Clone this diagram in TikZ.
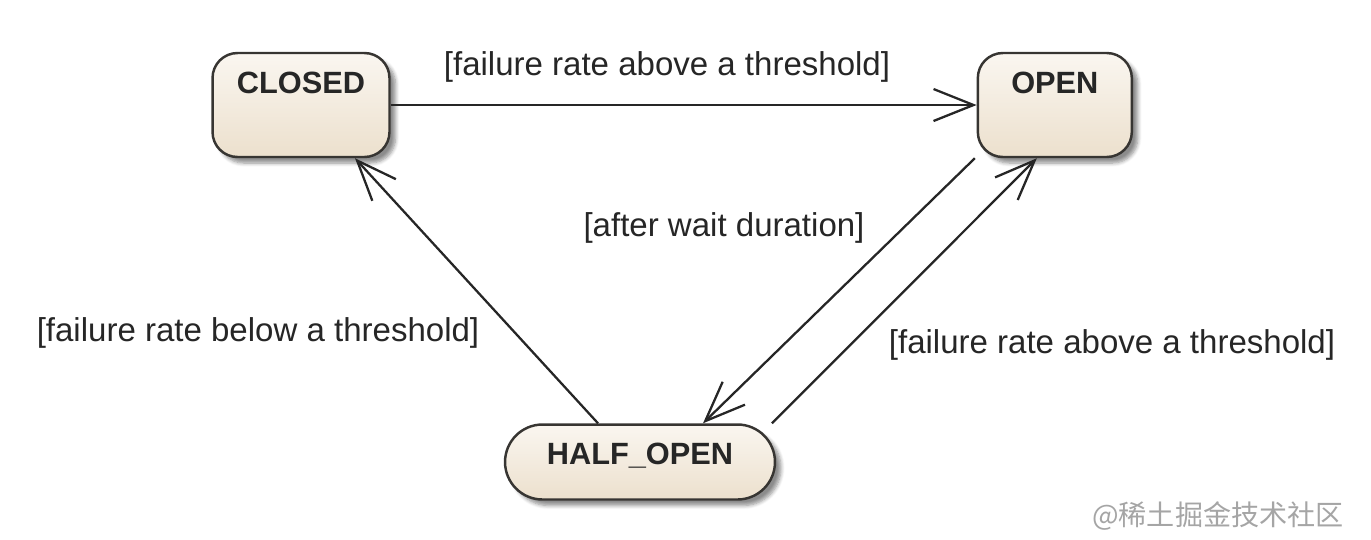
\documentclass[tikz,border=0pt]{standalone}
\usepackage{fontspec}
\setmainfont{Liberation Sans}
\newfontfamily\cjkfont{Noto Sans CJK SC}
\usepackage{xcolor}
\definecolor{statefill}{RGB}{236,224,205}
\definecolor{statetop}{RGB}{250,246,240}
\definecolor{stateline}{RGB}{55,53,50}
\definecolor{wmgray}{RGB}{165,165,165}
\usepackage{tikz}
\usetikzlibrary{arrows.meta, positioning, calc, shadows.blur}

\begin{document}
\begin{tikzpicture}[x=0.02cm, y=-0.02cm,
  cbstate/.style={rectangle, draw=stateline, line width=1.4pt, rounded corners=0.5cm,
               top color=statetop, bottom color=statefill,
               blur shadow={shadow xshift=0.12cm, shadow yshift=-0.12cm, shadow blur steps=6, shadow opacity=45},
               inner sep=0pt, text height=0.45cm, text=black!85, font=\fontsize{17.5}{20}\selectfont\bfseries},
  guard/.style={inner sep=0pt, text=black!85, font=\fontsize{18.8}{22}\selectfont},
  trans/.style={-{Straight Barb[length=0.8cm, width=0.64cm, line width=1.3pt]}, line width=1.3pt, black!85}
]
\useasboundingbox (0,0) rectangle (1371,539);

\node[cbstate, minimum width=3.54cm, minimum height=2.08cm, text depth=0.92cm] (closed) at (301,105) {CLOSED};
\node[cbstate, minimum width=3.08cm, minimum height=2.08cm, text depth=0.92cm, right=11.72cm of closed] (open) {OPEN};
\node[cbstate, minimum width=5.4cm, minimum height=1.5cm, rounded corners=0.75cm, text depth=0.36cm] (half) at (640,462) {HALF\_OPEN};

\node[guard] (g1) at (667,67) {[failure rate above a threshold]};
\node[guard] (g2) at (258,333) {[failure rate below a threshold]};
\node[guard] (g3) at (724,228) {[after wait duration]};
\node[guard] (g4) at (1112,345) {[failure rate above a threshold]};

\draw[trans] (closed) -- (open);
\draw[trans] ($(half.north)+(-42,0)$) -- ($(closed.south)+(54,0)$);
\draw[trans] ($(open.south)+(-80,0)$) -- ($(half.north)+(63,0)$);
\draw[trans] ($(half.north)+(132,0)$) -- ($(open.south)+(-18,0)$);

\node[inner sep=0pt, text=wmgray, font=\cjkfont\fontsize{16}{18}\selectfont] (mark) at (1218,516) {@稀土掘金技术社区};
\end{tikzpicture}
\end{document}
